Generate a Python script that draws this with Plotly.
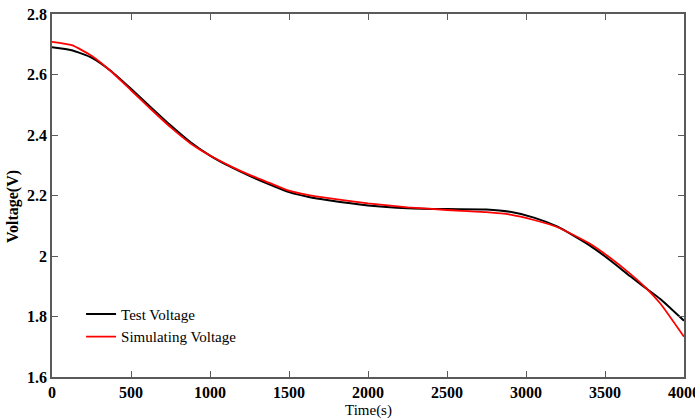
import plotly.graph_objects as go

time_s = [0, 125, 250, 375, 500, 625, 750, 875, 1000, 1125, 1250, 1375, 1500, 1625, 1750,
          2000, 2250, 2500, 2750, 2900, 3050, 3200, 3400, 3530, 3660, 3750, 3850, 4000]
test_voltage = [2.690, 2.680, 2.656, 2.611, 2.553, 2.492, 2.432, 2.377, 2.332, 2.296, 2.265,
                2.237, 2.211, 2.195, 2.184, 2.167, 2.158, 2.155, 2.154, 2.146, 2.127, 2.097,
                2.036, 1.987, 1.933, 1.897, 1.858, 1.786]
sim_voltage = [2.708, 2.697, 2.662, 2.610, 2.548, 2.486, 2.426, 2.373, 2.332, 2.298, 2.268,
               2.242, 2.216, 2.201, 2.191, 2.174, 2.161, 2.152, 2.145, 2.137, 2.119, 2.095,
               2.042, 1.995, 1.941, 1.899, 1.843, 1.733]

x_ticks = [0, 500, 1000, 1500, 2000, 2500, 3000, 3500, 4000]
y_ticks = [1.6, 1.8, 2.0, 2.2, 2.4, 2.6, 2.8]
y_tick_text = ["1.6", "1.8", "2", "2.2", "2.4", "2.6", "2.8"]

serif = "Liberation Serif, Times New Roman, serif"

fig = go.Figure()
fig.add_trace(go.Scatter(x=time_s, y=test_voltage, mode="lines", name="Test Voltage",
                         line=dict(color="black", width=2, shape="spline", smoothing=0.5)))
fig.add_trace(go.Scatter(x=time_s, y=sim_voltage, mode="lines", name="Simulating Voltage",
                         line=dict(color="#ff0000", width=1.8, shape="spline", smoothing=0.5)))

axis_common = dict(showgrid=False, zeroline=False, showline=True, linecolor="#5a5a5a",
                   linewidth=1.5, mirror="ticks", ticks="inside", ticklen=6,
                   tickcolor="#5a5a5a", tickwidth=1, automargin=False,
                   tickfont=dict(family=serif, size=16, color="black", weight="bold"))

fig.update_xaxes(range=[0, 4000], tickvals=x_ticks, ticktext=[str(v) for v in x_ticks],
                 ticklabeloverflow="allow", ticklabelstandoff=0,
                 **axis_common)
fig.update_yaxes(range=[1.6, 2.8], tickvals=y_ticks, ticktext=y_tick_text,
                 **axis_common)

fig.update_layout(
    width=695, height=419,
    margin=dict(l=52, r=11, t=14, b=42),
    plot_bgcolor="white", paper_bgcolor="white",
    legend=dict(x=0.046, y=0.218, xanchor="left", yanchor="top",
                bgcolor="rgba(0,0,0,0)", font=dict(family=serif, size=15, color="black"),
                tracegroupgap=0, itemwidth=30),
    showlegend=True,
    annotations=[
        dict(text="<b>Voltage(V)</b>", xref="paper", yref="paper",
             x=-0.0617, y=0.468, xanchor="center", yanchor="middle",
             textangle=-90, showarrow=False,
             font=dict(family=serif, size=16, color="black")),
        dict(text="Time(s)", xref="paper", yref="paper",
             x=0.5, y=-0.093, xanchor="center", yanchor="middle",
             showarrow=False,
             font=dict(family=serif, size=15, color="black")),
    ],
)

fig.write_html("out.html")
